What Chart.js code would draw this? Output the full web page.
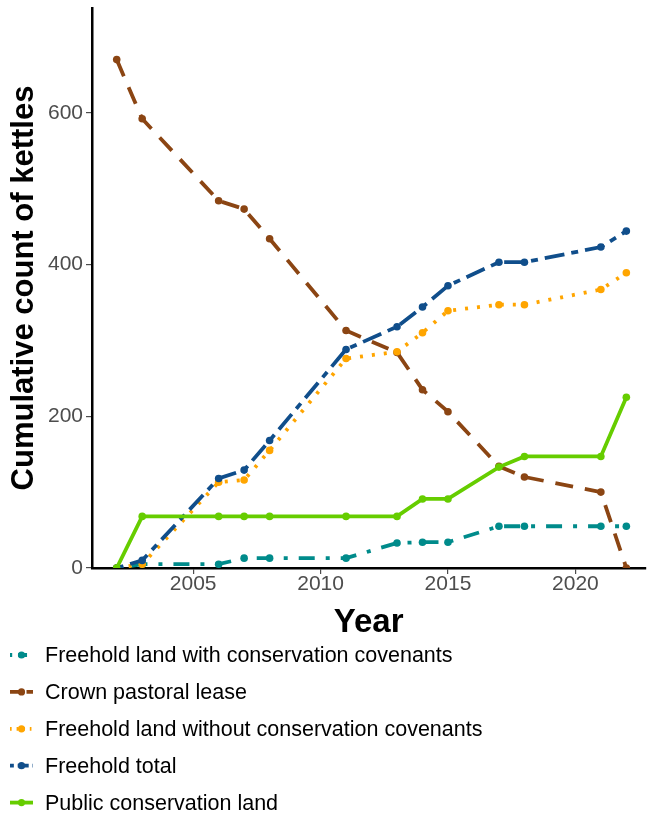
<!DOCTYPE html>
<html>
<head>
<meta charset="utf-8">
<script src="https://cdn.jsdelivr.net/npm/chart.js@4"></script>
<style>
  html, body { margin: 0; padding: 0; background: #fff; overflow: hidden; }
  canvas { display: block; }
</style>
</head>
<body>
<canvas id="kettleChart" width="649" height="814"></canvas>
<script>
const years = [2002, 2003, 2006, 2007, 2008, 2011, 2013, 2014, 2015, 2017, 2018, 2021, 2022];
const withCovenants = [0, 5, 5, 13, 13, 13, 33, 34, 34, 55, 55, 55, 55];
const crownLease = [670, 592, 484, 473, 434, 313, 284, 235, 206, 134, 120, 100, 0];
const withoutCovenants = [0, 5, 113, 116, 155, 276, 285, 310, 339, 347, 347, 367, 389];
const freeholdTotal = [0, 10, 118, 129, 168, 288, 318, 344, 372, 403, 403, 423, 444];
const publicLand = [0, 68, 68, 68, 68, 68, 68, 91, 91, 133, 147, 147, 225];
const xTicks = [2005, 2010, 2015, 2020];
const yTicks = [0, 200, 400, 600];

const FONT = "'Liberation Sans', Arial, sans-serif";

function pts(vals) {
  return years.map((y, i) => ({ x: y, y: vals[i] }));
}

// legend order as in the reference
const series = [
  { label: 'Freehold land with conservation covenants', data: withCovenants, color: '#008b8b', dash: [4, 11, 16, 11] },
  { label: 'Crown pastoral lease', data: crownLease, color: '#8b4513', dash: [18, 12] },
  { label: 'Freehold land without conservation covenants', data: withoutCovenants, color: '#ffa500', dash: [3, 9] },
  { label: 'Freehold total', data: freeholdTotal, color: '#104e8b', dash: [7, 7, 20, 7] },
  { label: 'Public conservation land', data: publicLand, color: '#66cd00', dash: [] }
];

const datasets = series.map((s, i) => ({
  label: s.label,
  data: pts(s.data),
  borderColor: s.color,
  backgroundColor: s.color,
  borderWidth: 3.8,
  borderDash: s.dash,
  pointRadius: 3.8,
  pointBorderWidth: 0,
  pointHoverRadius: 3.8,
  tension: 0,
  fill: false,
  order: series.length - i
}));

const legendPlugin = {
  id: 'stackLegend',
  afterDraw(chart) {
    const ctx = chart.ctx;
    ctx.save();
    series.forEach((s, i) => {
      const y = 655 + i * 36.9;
      ctx.strokeStyle = s.color;
      ctx.fillStyle = s.color;
      ctx.lineWidth = 3.8;
      ctx.setLineDash(s.dash.length ? s.dash.map(d => d * 0.55) : []);
      ctx.beginPath();
      ctx.moveTo(10, y);
      ctx.lineTo(33, y);
      ctx.stroke();
      ctx.setLineDash([]);
      ctx.beginPath();
      ctx.arc(21.5, y, 3.6, 0, Math.PI * 2);
      ctx.fill();
      ctx.fillStyle = '#000';
      ctx.font = '21.5px ' + FONT;
      ctx.textBaseline = 'middle';
      ctx.fillText(s.label, 45, y + 1);
    });
    ctx.restore();
  }
};

new Chart(document.getElementById('kettleChart'), {
  type: 'line',
  data: { datasets: datasets },
  plugins: [legendPlugin],
  options: {
    responsive: false,
    animation: false,
    layout: { padding: { top: 8, right: 0, bottom: 171, left: 0 } },
    plugins: { legend: { display: false }, tooltip: { enabled: false } },
    scales: {
      x: {
        type: 'linear',
        min: 2001.03,
        max: 2022.74,
        afterBuildTicks: (scale) => { scale.ticks = xTicks.map(v => ({ value: v })); },
        afterFit: (scale) => {
          scale.height = 75;
          scale.paddingLeft = 0;
          scale.paddingRight = 0;
        },
        ticks: {
          color: '#4d4d4d',
          font: { family: FONT, size: 21 },
          padding: -2,
          maxRotation: 0,
          callback: (v) => String(v)
        },
        grid: { drawOnChartArea: false, drawTicks: true, tickLength: 6, color: '#4d4d4d', lineWidth: 1.2 },
        border: { display: true, color: '#000', width: 2.5 },
        title: {
          display: true,
          text: 'Year',
          color: '#000',
          font: { family: FONT, size: 33, weight: 'bold' },
          padding: { top: 2, bottom: 0 }
        }
      },
      y: {
        type: 'linear',
        min: 0,
        max: 738,
        afterBuildTicks: (scale) => { scale.ticks = yTicks.map(v => ({ value: v })); },
        afterFit: (scale) => {
          scale.width = 92;
          scale.paddingTop = 0;
          scale.paddingBottom = 0;
        },
        ticks: {
          color: '#4d4d4d',
          font: { family: FONT, size: 21 },
          padding: 3,
          callback: (v) => String(v)
        },
        grid: { drawOnChartArea: false, drawTicks: true, tickLength: 6, color: '#4d4d4d', lineWidth: 1.2 },
        border: { display: true, color: '#000', width: 2.5 },
        title: {
          display: true,
          text: 'Cumulative count of kettles',
          color: '#000',
          font: { family: FONT, size: 31, weight: 'bold' },
          padding: { top: 6, bottom: 0 }
        }
      }
    }
  }
});
</script>
</body>
</html>
